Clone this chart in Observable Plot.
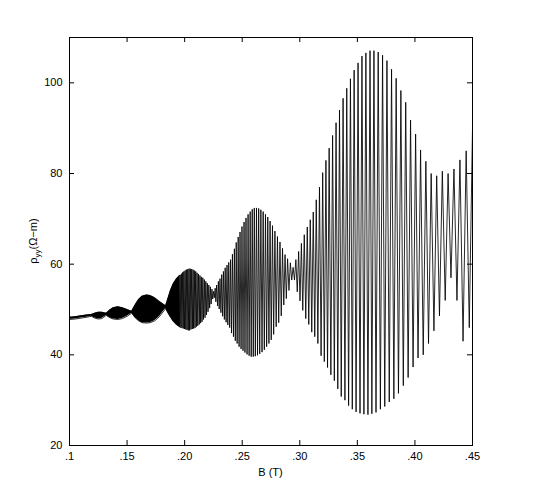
<!DOCTYPE html>
<html><head><meta charset="utf-8">
<script src="https://cdn.jsdelivr.net/npm/d3@7"></script>
<script src="https://cdn.jsdelivr.net/npm/@observablehq/plot@0.6"></script>
<style>body{margin:0;background:#fff} #chart{position:absolute;left:0;top:0}</style>
</head><body><div id="chart"></div>
<script>
// Axis ticks and labels
const xTicks = [0.1, 0.15, 0.2, 0.25, 0.3, 0.35, 0.4, 0.45];
const xTickLabels = [".1", ".15", ".20", ".25", ".30", ".35", ".40", ".45"];
const yTicks = [20, 40, 60, 80, 100];
const xTitle = "B (T)";

// Low-field region (oscillations too dense to resolve): envelope
const envB     = [0.100,0.105,0.110,0.115,0.119,0.122,0.125,0.128,0.132,0.135,0.138,0.142,0.146,0.150,0.154,0.157,0.160,0.163,0.1668,0.170,0.174,0.178,0.1835,0.1860,0.1877,0.190,0.193,0.196];
const envUpper = [48.3,48.4,48.6,48.8,48.9,49.2,49.4,49.4,49.2,49.9,50.4,50.6,50.4,50.0,49.6,51.0,52.2,52.9,53.2,53.1,52.6,51.8,50.8,52.8,54.2,55.6,56.8,57.6];
const envLower = [47.8,47.9,48.1,48.3,48.5,48.1,47.9,48.0,48.7,48.2,47.9,47.8,48.0,48.5,49.2,48.2,47.5,47.1,47.0,47.1,47.5,48.4,50.2,49.0,48.3,47.4,46.6,46.1];

// Resolved oscillations: successive maxima / minima (B in T, rho in ohm-m)
const oscB = [
0.1951,0.1956,0.1961,0.1967,0.1972,0.1977,0.1983,0.1988,0.1993,0.1999,
0.2004,0.2010,0.2015,0.2021,0.2027,0.2032,0.2038,0.2043,0.2049,0.2055,
0.2061,0.2067,0.2073,0.2078,0.2084,0.2090,0.2096,0.2102,0.2108,0.2114,
0.2121,0.2127,0.2133,0.2139,0.2145,0.2151,0.2158,0.2164,0.2171,0.2177,
0.2184,0.2190,0.2197,0.2203,0.2210,0.2217,0.2224,0.2230,0.2237,0.2244,
0.2251,0.2258,0.2265,0.2271,0.2278,0.2286,0.2293,0.2300,0.2307,0.2315,
0.2322,0.2330,0.2337,0.2345,0.2352,0.2360,0.2368,0.2375,0.2383,0.2391,
0.2399,0.2407,0.2415,0.2424,0.2432,0.2440,0.2448,0.2456,0.2465,0.2473,
0.2481,0.2490,0.2498,0.2507,0.2516,0.2524,0.2533,0.2542,0.2551,0.2560,
0.2569,0.2578,0.2587,0.2596,0.2605,0.2614,0.2624,0.2633,0.2643,0.2652,
0.2662,0.2672,0.2682,0.2692,0.2702,0.2712,0.2722,0.2732,0.2742,0.2752,
0.2763,0.2773,0.2784,0.2795,0.2806,0.2817,0.2828,0.2839,0.2850,0.2861,
0.2872,0.2883,0.2894,0.2906,0.2918,0.2930,0.2942,0.2954,0.2966,0.2978,
0.2990,0.3002,0.3014,0.3026,0.3039,0.3052,0.3065,0.3078,0.3091,0.3104,
0.3117,0.3130,0.3143,0.3157,0.3171,0.3185,0.3199,0.3213,0.3227,0.3241,
0.3255,0.3270,0.3285,0.3300,0.3315,0.3330,0.3345,0.3360,0.3376,0.3392,
0.3408,0.3424,0.3440,0.3456,0.3472,0.3489,0.3506,0.3523,0.3540,0.3557,
0.3574,0.3592,0.3610,0.3626,0.3644,0.3662,0.3681,0.3700,0.3719,0.3738,
0.3757,0.3777,0.3797,0.3817,0.3837,0.3857,0.3878,0.3899,0.3920,0.3941,
0.3962,0.3984,0.4006,0.4027,0.4049,0.4072,0.4095,0.4118,0.4141,0.4165,
0.4189,0.4213,0.4238,0.4263,0.4288,0.4313,0.4339,0.4365,0.4391,0.4418,
0.4445,0.4472,0.4500];
const oscRho = [
57.2,46.2,57.6,46.0,57.9,45.9,58.2,45.8,58.4,45.7,
58.6,45.6,58.8,45.5,58.9,45.4,59.0,45.4,59.0,45.6,
58.9,45.7,58.8,45.8,58.6,45.9,58.4,46.2,58.1,46.4,
57.8,46.7,57.5,47.0,57.2,47.3,57.0,47.8,56.6,48.2,
56.2,48.8,55.8,49.5,55.4,50.3,55.0,51.2,54.5,52.3,
54.0,52.6,54.7,51.7,55.4,50.8,56.2,50.1,56.8,49.3,
57.7,48.5,58.4,47.8,59.2,47.2,59.8,46.6,60.4,46.0,
61.0,44.8,62.2,44.0,63.4,43.1,64.8,42.5,66.0,41.8,
67.1,41.3,68.3,40.9,69.3,40.5,70.2,40.1,71.0,39.8,
71.6,39.6,72.1,39.6,72.4,39.7,72.4,39.9,72.3,40.2,
72.0,40.6,71.6,41.1,71.0,41.8,70.4,42.5,69.5,43.3,
68.5,44.5,67.3,46.2,66.1,47.1,64.9,48.6,63.5,51.0,
62.1,52.4,61.2,54.2,60.3,56.5,59.3,56.5,61.0,53.9,
62.8,51.9,64.6,49.8,66.5,48.0,68.2,46.7,69.8,45.0,
71.5,44.0,74.2,42.5,77.0,39.8,80.2,38.5,82.9,37.2,
85.6,35.6,88.4,34.3,91.2,32.5,94.0,30.8,96.6,30.0,
98.8,28.8,100.9,28.0,102.8,27.4,104.4,27.1,105.9,26.9,
106.6,26.8,107.1,27.0,107.1,27.3,106.8,28.0,106.1,28.6,
104.9,29.6,103.0,30.3,101.0,31.5,98.3,33.2,95.7,35.0,
91.8,37.3,88.7,39.3,85.2,40.0,82.7,42.5,80.0,45.3,
79.5,48.6,80.5,52.0,80.0,57.0,81.0,52.0,83.0,43.0,
85.0,46.0,90.0];

const env = envB.map((b, i) => ({B: b, hi: envUpper[i], lo: envLower[i]}));
const osc = oscB.map((b, i) => ({B: b, rho: oscRho[i]}));

// frame is 403 x 408 px; ticks are 5 px long, pointing inward
const chart = Plot.plot({
  width: 534, height: 503,
  marginLeft: 69, marginRight: 62, marginTop: 37, marginBottom: 58,
  x: {domain: [0.1, 0.45]},
  y: {domain: [20, 110]},
  style: {fontFamily: "'Liberation Sans', Arial, Helvetica, sans-serif", fontSize: "11px", color: "black", background: "white"},
  marks: [
    Plot.areaY(env, {x: "B", y1: "lo", y2: "hi", fill: "black"}),
    Plot.line(env, {x: "B", y: "hi", stroke: "black", strokeWidth: 0.8}),
    Plot.line(env, {x: "B", y: "lo", stroke: "black", strokeWidth: 0.8}),
    Plot.line(osc, {x: "B", y: "rho", stroke: "black", strokeWidth: 0.85}),
    Plot.frame({stroke: "black"}),
    Plot.tickX(xTicks, {x: d => d, stroke: "black", insetTop: 403}),
    Plot.tickX(xTicks, {x: d => d, stroke: "black", insetBottom: 403}),
    Plot.tickY(yTicks, {y: d => d, stroke: "black", insetRight: 398}),
    Plot.tickY(yTicks, {y: d => d, stroke: "black", insetLeft: 398}),
    Plot.axisX(xTicks, {anchor: "bottom", tickSize: 0, tickPadding: 7, tickFormat: d => xTickLabels[xTicks.indexOf(d)], label: null}),
    Plot.axisY(yTicks, {anchor: "left", tickSize: 0, tickPadding: 7, label: null})
  ]
});
document.getElementById("chart").appendChild(chart);

const svg = d3.select(chart);
svg.append("text")
  .attr("x", 270.5).attr("y", 476)
  .attr("text-anchor", "middle").attr("fill", "black")
  .style("font-size", "11px")
  .text(xTitle);
const yl = svg.append("text")
  .attr("transform", "translate(37,241) rotate(-90)")
  .attr("text-anchor", "middle").attr("fill", "black")
  .style("font-size", "11px");
yl.append("tspan").text("ρ");
yl.append("tspan").attr("dy", 3).style("font-size", "8px").text("yy");
yl.append("tspan").attr("dy", -3).text("(Ω−m)");
</script>
</body></html>
